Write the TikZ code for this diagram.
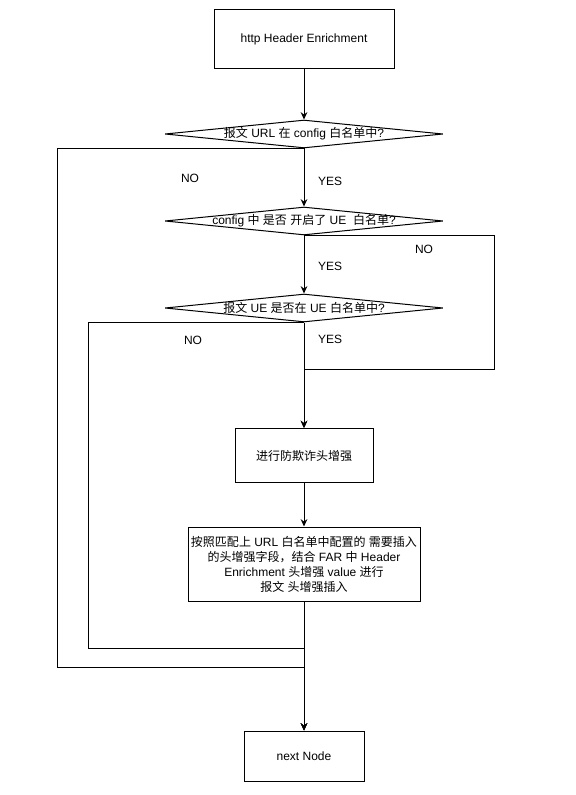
\documentclass[tikz,border=0pt]{standalone}
\usepackage{fontspec}
\setmainfont{Liberation Sans}
\newfontfamily\cjk{Noto Sans CJK SC}
\newcommand{\zh}[1]{{\cjk #1}}
\usepackage{tikz}
\usetikzlibrary{arrows.meta,shapes.geometric}

\begin{document}
\begin{tikzpicture}[x=0.75pt,y=-0.75pt, line width=0.75pt,
  every node/.style={font=\fontsize{9pt}{11.25pt}\selectfont},
  box/.style={draw,rectangle,align=center,inner sep=2pt},
  dec/.style={draw,diamond,minimum width=208.5pt,minimum height=21pt,inner sep=0pt},
  arr/.style={-{Stealth[length=5.5pt,width=5pt]}}]
\useasboundingbox (0,0) rectangle (575,795);

\node[box,minimum width=135pt,minimum height=44.25pt] (b1) at (304,39.5) {http Header Enrichment};
\foreach \name/\y in {d1/134,d2/221,d3/308} {
  \node[dec] (\name) at (304,\y) {};
}
\node (d1t) at (d1) {\zh{报文} URL \zh{在} config \zh{白名单中}?};
\node (d2t) at (d2) {config \zh{中} \zh{是否} \zh{开启了} UE\ \ \zh{白名单}?};
\node (d3t) at (d3) {\zh{报文} UE \zh{是否在} UE \zh{白名单中}?};
\node[box,minimum width=103.5pt,minimum height=40.5pt] (b3) at (304,455.5) {\zh{进行防欺诈头增强}};
\node[box,minimum width=174pt,minimum height=55.5pt] (b4) at (304,564) {\zh{按照匹配上} URL \zh{白名单中配置的} \zh{需要插入}\\
  \zh{的头增强字段，结合} FAR \zh{中} Header\\
  Enrichment \zh{头增强} value \zh{进行}\\
  \zh{报文} \zh{头增强插入}};
\node[box,minimum width=90pt,minimum height=37.5pt] (nxt) at (304,756) {next Node};

% labels on the branches
\foreach \txt/\x/\y/\n in {NO/190/178/n1,YES/330/181/y1,NO/424/249/n2,YES/330/266/y2,NO/193/340/n3,YES/330/339/y3} {
  \node (\n) at (\x,\y) {\txt};
}

\coordinate (c1) at (57,667);
\coordinate (c2) at (494,369);
\coordinate (c3) at (88,648);

\draw[arr] (b1) -- (d1.north);
\draw[arr] (d1.south) -- (d2.north);
\draw[arr] (d2.south) -- (d3.north);
\draw[arr] (d3.south) -- (b3.north);
\draw[arr] (b3) -- (b4);
\draw[arr] (b4.south) -- (nxt.north);
\draw[arr] (d1.south) -| (c1) -| (nxt.north);
\draw[arr] (d2.south) -| (c2) -| (b3.north);
\draw[arr] (d3.south) -| (c3) -| (nxt.north);
\end{tikzpicture}
\end{document}
